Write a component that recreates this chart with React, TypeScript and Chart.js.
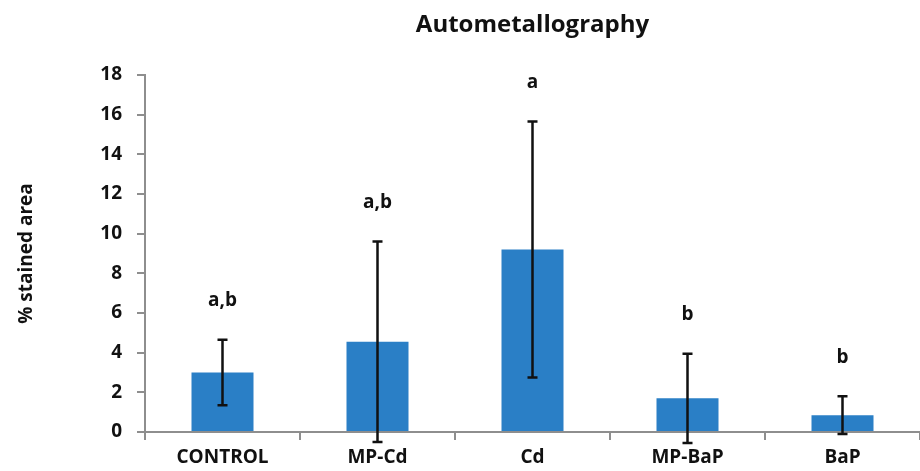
import React, { useEffect, useRef } from "react";
import { Chart, registerables } from "chart.js";

Chart.register(...registerables);

const chartTitle = "Autometallography";
const yAxisTitle = "% stained area";
const categories = ["CONTROL", "MP-Cd", "Cd", "MP-BaP", "BaP"];
const means = [3.0, 4.55, 9.2, 1.7, 0.85];
const sds = [1.65, 5.05, 6.45, 2.25, 0.95];
const sigLetters = ["a,b", "a,b", "a", "b", "b"];
const yMin = 0;
const yMax = 18;
const yStep = 2;

const FONT = "'Open Sans', 'DejaVu Sans', sans-serif";
const AXIS_GRAY = "#8e8e8e";
const BAR_BLUE = "#2a7fc6";

const overlayPlugin = {
  id: "overlay",
  afterDatasetsDraw(chart: any) {
    const { ctx, chartArea, scales } = chart;
    const x = scales.x;
    const y = scales.y;
    ctx.save();
    // error bars
    ctx.strokeStyle = "#111";
    ctx.lineWidth = 2.5;
    means.forEach((m, i) => {
      const cx = x.getPixelForValue(i);
      const top = y.getPixelForValue(m + sds[i]);
      const bot = y.getPixelForValue(m - sds[i]);
      ctx.beginPath();
      ctx.moveTo(cx, top);
      ctx.lineTo(cx, bot);
      ctx.moveTo(cx - 5, top);
      ctx.lineTo(cx + 5, top);
      ctx.moveTo(cx - 5, bot);
      ctx.lineTo(cx + 5, bot);
      ctx.stroke();
    });
    // significance letters
    ctx.fillStyle = "#111";
    ctx.font = `bold 19px ${FONT}`;
    ctx.textAlign = "center";
    ctx.textBaseline = "middle";
    sigLetters.forEach((s, i) => {
      const cx = x.getPixelForValue(i);
      const top = y.getPixelForValue(means[i] + sds[i]);
      ctx.fillText(s, cx, top - 39);
    });
    // title
    ctx.font = `bold 24px ${FONT}`;
    ctx.fillText(chartTitle, (chartArea.left + chartArea.right) / 2, 25);
    ctx.restore();
  },
};

export default function App() {
  const ref = useRef<HTMLCanvasElement | null>(null);
  useEffect(() => {
    document.body.style.margin = "0";
    const canvas = ref.current;
    if (!canvas) return;
    const chart = new Chart(canvas, {
      type: "bar",
      data: {
        labels: categories,
        datasets: [
          {
            data: means,
            backgroundColor: BAR_BLUE,
            borderWidth: 0,
            categoryPercentage: 1,
            barPercentage: 0.4,
          },
        ],
      },
      options: {
        responsive: false,
        animation: false,
        devicePixelRatio: 1,
        layout: { padding: { top: 75, left: 0, right: 0, bottom: 0 } },
        plugins: {
          legend: { display: false },
          title: { display: false },
          tooltip: { enabled: false },
        },
        scales: {
          x: {
            offset: true,
            grid: {
              offset: true,
              drawOnChartArea: false,
              drawTicks: true,
              tickLength: 8,
              color: AXIS_GRAY,
              lineWidth: 2,
            },
            border: { color: AXIS_GRAY, width: 2 },
            ticks: {
              color: "#111",
              font: { family: FONT, size: 19, weight: "bold" },
              padding: 6,
              maxRotation: 0,
            },
            afterFit: (s: any) => {
              s.height = 39;
            },
          },
          y: {
            min: yMin,
            max: yMax,
            ticks: {
              stepSize: yStep,
              color: "#111",
              font: { family: FONT, size: 19, weight: "bold" },
              padding: 15,
            },
            grid: {
              drawOnChartArea: false,
              drawTicks: true,
              tickLength: 8,
              color: AXIS_GRAY,
              lineWidth: 2,
            },
            border: { color: AXIS_GRAY, width: 2 },
            title: {
              display: true,
              text: yAxisTitle,
              color: "#111",
              font: { family: FONT, size: 19, weight: "bold" },
              padding: { top: 15, bottom: 0 },
            },
            afterFit: (s: any) => {
              s.width = 145;
            },
          },
        },
      },
      plugins: [overlayPlugin],
    });
    return () => chart.destroy();
  }, []);
  return (
    <div style={{ width: 920, height: 471 }}>
      <canvas ref={ref} width={920} height={471} style={{ display: "block" }} />
    </div>
  );
}
